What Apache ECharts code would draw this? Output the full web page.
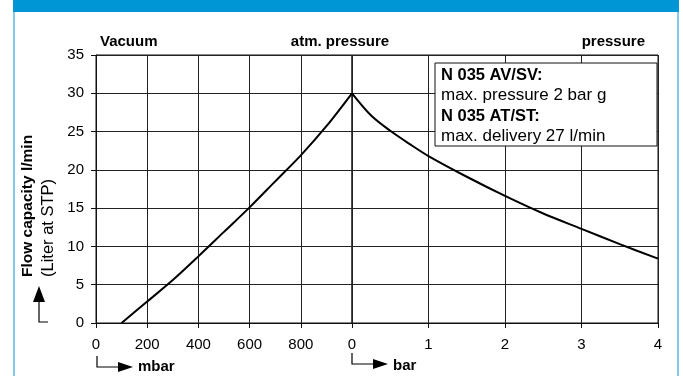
<!DOCTYPE html>
<html>
<head>
<meta charset="utf-8">
<script src="https://cdn.jsdelivr.net/npm/echarts@6/dist/echarts.min.js"></script>
<style>
  html, body { margin: 0; padding: 0; background: #fff; }
  #chart { width: 683px; height: 376px; }
</style>
</head>
<body>
<div id="chart"></div>
<script>
// vacuum side (mbar absolute) and pressure side (bar)
const vacuumTicks = [0, 200, 400, 600, 800, 1000];
const vacuumMbar = [100, 200, 300, 400, 500, 600, 700, 800, 900, 1000];
const vacuumFlow = [0, 2.8, 5.6, 8.7, 11.9, 15.1, 18.5, 21.9, 25.7, 30];

const pressureBar = [0, 0.25, 0.5, 0.75, 1, 1.5, 2, 2.5, 3, 3.5, 4];
const pressureFlow = [30, 27.1, 25.1, 23.4, 21.8, 19.1, 16.6, 14.3, 12.3, 10.3, 8.4];

const yTicks = [0, 5, 10, 15, 20, 25, 30, 35];

const FONT = '"Liberation Sans", Arial, sans-serif';
const GRID_TOP = 55, GRID_H = 268;

const chart = echarts.init(document.getElementById('chart'));

const axisLine = { show: true, lineStyle: { color: '#111', width: 1 } };
const splitLine = { show: true, lineStyle: { color: '#222', width: 1 } };
const tick = { show: true, inside: false, length: 5, lineStyle: { color: '#111' } };
const label = { color: '#000', fontSize: 15, fontFamily: FONT };

function arrowRight(x, y) {
  return [
    { type: 'polyline', shape: { points: [[x, y - 11], [x, y], [x + 22, y]] },
      style: { stroke: '#000', lineWidth: 1.2, fill: null } },
    { type: 'polygon', shape: { points: [[x + 21, y - 5], [x + 36, y], [x + 21, y + 5]] },
      style: { fill: '#000' } }
  ];
}

const option = {
  animation: false,
  grid: [
    { left: 96, top: GRID_TOP, width: 256, height: GRID_H, show: true, borderColor: '#111', borderWidth: 1 },
    { left: 352, top: GRID_TOP, width: 306, height: GRID_H, show: true, borderColor: '#111', borderWidth: 1 }
  ],
  xAxis: [
    { type: 'value', gridIndex: 0, min: vacuumTicks[0], max: vacuumTicks[vacuumTicks.length - 1], interval: 200,
      axisLine, axisTick: tick, splitLine,
      axisLabel: { ...label, margin: 14, formatter: v => (v === 1000 ? '' : v) } },
    { type: 'value', gridIndex: 1, min: 0, max: 4, interval: 1,
      axisLine, axisTick: tick, splitLine,
      axisLabel: { ...label, margin: 14 } }
  ],
  yAxis: [
    { type: 'value', gridIndex: 0, min: yTicks[0], max: yTicks[yTicks.length - 1], interval: 5,
      axisLine, axisTick: tick, splitLine,
      axisLabel: { ...label, margin: 12 } },
    { type: 'value', gridIndex: 1, min: 0, max: 35, interval: 5,
      axisLine: { show: false }, axisTick: { show: false }, splitLine,
      axisLabel: { show: false } }
  ],
  series: [
    { type: 'line', xAxisIndex: 0, yAxisIndex: 0, data: vacuumMbar.map((x, i) => [x, vacuumFlow[i]]),
      showSymbol: false, smooth: 0.3, lineStyle: { color: '#000', width: 2 } },
    { type: 'line', xAxisIndex: 1, yAxisIndex: 1, data: pressureBar.map((x, i) => [x, pressureFlow[i]]),
      showSymbol: false, smooth: 0.3, lineStyle: { color: '#000', width: 2 } }
  ],
  graphic: [
    // frame
    { type: 'rect', shape: { x: 13, y: 0, width: 666, height: 12 }, style: { fill: '#0096d6' } },
    { type: 'rect', shape: { x: 13, y: 12, width: 2, height: 364 }, style: { fill: '#86c8ec' } },
    { type: 'rect', shape: { x: 677, y: 12, width: 2, height: 364 }, style: { fill: '#86c8ec' } },
    // top region labels
    { type: 'text', x: 100, y: 42, style: { text: 'Vacuum', font: 'bold 15px ' + FONT, fill: '#000', verticalAlign: 'middle' } },
    { type: 'text', x: 340, y: 42, style: { text: 'atm. pressure', font: 'bold 15px ' + FONT, fill: '#000', align: 'center', verticalAlign: 'middle' } },
    { type: 'text', x: 645, y: 42, style: { text: 'pressure', font: 'bold 15px ' + FONT, fill: '#000', align: 'right', verticalAlign: 'middle' } },
    // y axis title
    { type: 'text', x: 28, y: 277, rotation: Math.PI / 2,
      style: { text: 'Flow capacity l/min', font: 'bold 15.5px ' + FONT, fill: '#000', align: 'left', verticalAlign: 'middle' } },
    { type: 'text', x: 48, y: 277, rotation: Math.PI / 2,
      style: { text: '(Liter at STP)', font: '16.5px ' + FONT, fill: '#000', align: 'left', verticalAlign: 'middle' } },
    { type: 'polygon', shape: { points: [[39, 286], [33, 302], [45, 302]] }, style: { fill: '#000' } },
    { type: 'polyline', shape: { points: [[39, 300], [39, 322], [48, 322]] }, style: { stroke: '#000', lineWidth: 1.2, fill: null } },
    // x unit arrows
    ...arrowRight(97, 367),
    { type: 'text', x: 138, y: 367, style: { text: 'mbar', font: 'bold 15px ' + FONT, fill: '#000', verticalAlign: 'middle' } },
    ...arrowRight(352, 364),
    { type: 'text', x: 393, y: 366, style: { text: 'bar', font: 'bold 15px ' + FONT, fill: '#000', verticalAlign: 'middle' } },
    // note box
    { type: 'rect', shape: { x: 435, y: 63, width: 222, height: 83 }, style: { fill: '#fff', stroke: '#111', lineWidth: 1 }, z: 100 },
    { type: 'text', x: 441, y: 65, z: 101,
      style: {
        text: '{b|N 035 AV/SV:}\n{n|max. pressure 2 bar g}\n{b|N 035 AT/ST:}\n{n|max. delivery 27 l/min}',
        fill: '#000',
        rich: {
          b: { font: 'bold 16.5px ' + FONT, lineHeight: 20.5, fill: '#000' },
          n: { font: '17px ' + FONT, lineHeight: 20.5, fill: '#000' }
        }
      } }
  ]
};

chart.setOption(option);
</script>
</body>
</html>
